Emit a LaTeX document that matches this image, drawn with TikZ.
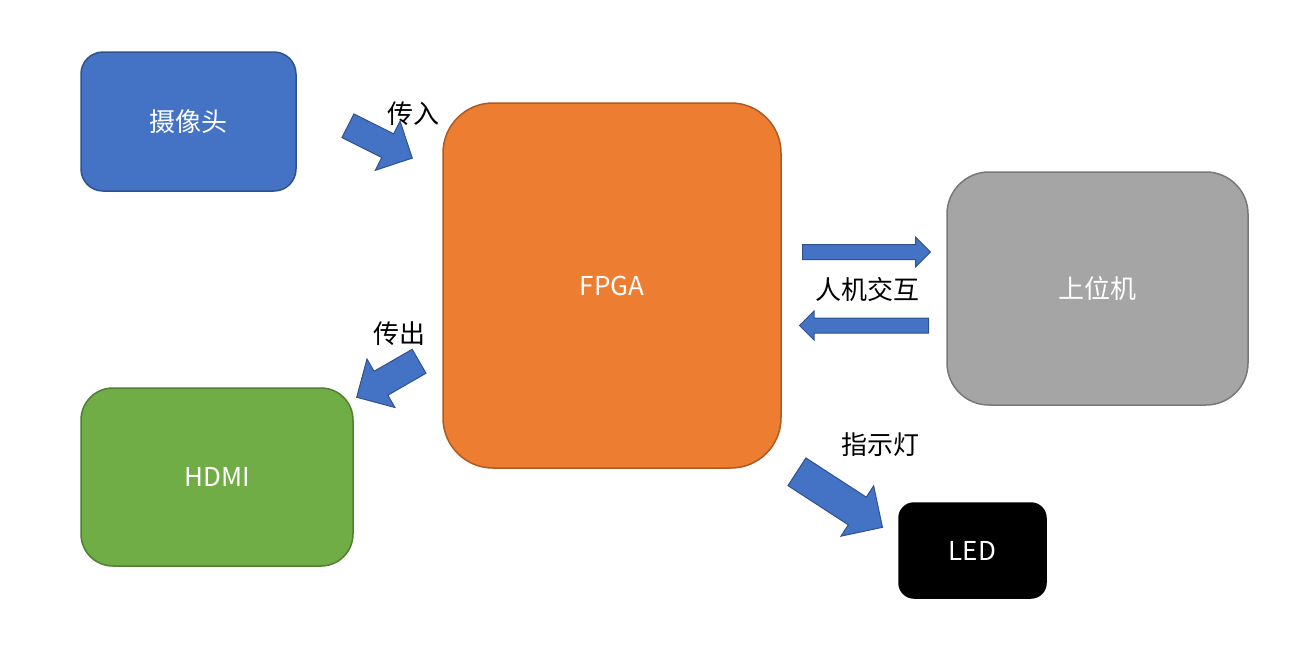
\documentclass[tikz,border=0pt]{standalone}
\usepackage{fontspec}
\setmainfont{Noto Sans CJK SC}
\usetikzlibrary{shapes.arrows}
\definecolor{camblue}{HTML}{4472C4}
\definecolor{camline}{HTML}{2F528F}
\definecolor{fpgaorange}{HTML}{ED7D31}
\definecolor{fpgaline}{HTML}{AE5A21}
\definecolor{hostgray}{HTML}{A5A5A5}
\definecolor{hostline}{HTML}{787878}
\definecolor{hdmigreen}{HTML}{70AD47}
\definecolor{hdmiline}{HTML}{507E32}
\tikzset{
  box/.style={draw,rectangle,line width=1.5pt,text=white,font=\fontsize{26}{30}\selectfont},
  lbl/.style={font=\fontsize{26}{30}\selectfont,inner sep=0pt},
  blockarrow/.style={single arrow,draw=camline,fill=camblue,line width=1pt,inner xsep=0pt,
    single arrow head indent=0pt,anchor=tail}
}
\begin{document}
\begin{tikzpicture}[x=1pt,y=-1pt]
\useasboundingbox (0,0) rectangle (1298,665);
\node[box,fill=camblue,draw=camline,rounded corners=22pt,minimum width=215pt,minimum height=139pt] (CAM) at (188.5,121.5) {摄像头};
\node[box,fill=fpgaorange,draw=fpgaline,rounded corners=50pt,minimum width=338pt,minimum height=365pt] (FPGA) at (612,285.5) {FPGA};
\node[box,fill=hostgray,draw=hostline,rounded corners=42pt,minimum width=301pt,minimum height=233pt] (HOST) at (1097.5,288.5) {上位机};
\node[box,fill=hdmigreen,draw=hdmiline,rounded corners=32pt,minimum width=272pt,minimum height=178pt] (HDMI) at (217,477) {HDMI};
\node[box,fill=black,draw=black,rounded corners=15pt,minimum width=147pt,minimum height=95pt] (LED) at (972.5,550.5) {LED};
% block arrows, placed by their tails
\node[blockarrow,rotate=-26.7,minimum height=72pt,minimum width=54pt,inner ysep=12.75pt,single arrow head extend=14.25pt] (IN) at (347.5,125.5) {};
\node[blockarrow,minimum height=128pt,minimum width=29pt,inner ysep=7pt,single arrow head extend=7.5pt] (TOHOST) at (802,252) {};
\node[blockarrow,rotate=180,minimum height=129pt,minimum width=28pt,inner ysep=7pt,single arrow head extend=7pt] (TOFPGA) at (929,325.5) {};
\node[blockarrow,rotate=210,minimum height=72pt,minimum width=55pt,inner ysep=13.3pt,single arrow head extend=14.2pt] (OUT) at (419.5,361) {};
\node[blockarrow,rotate=-33,minimum height=102pt,minimum width=59pt,inner ysep=16pt,single arrow head extend=13.5pt] (TOLED) at (796.5,471.5) {};
% labels
\node[lbl] (LIN) at (413,114) {传入};
\node[lbl] (LHMI) at (867,290) {人机交互};
\node[lbl] (LOUT) at (399,334) {传出};
\node[lbl] (LLED) at (880,445) {指示灯};
\end{tikzpicture}
\end{document}
